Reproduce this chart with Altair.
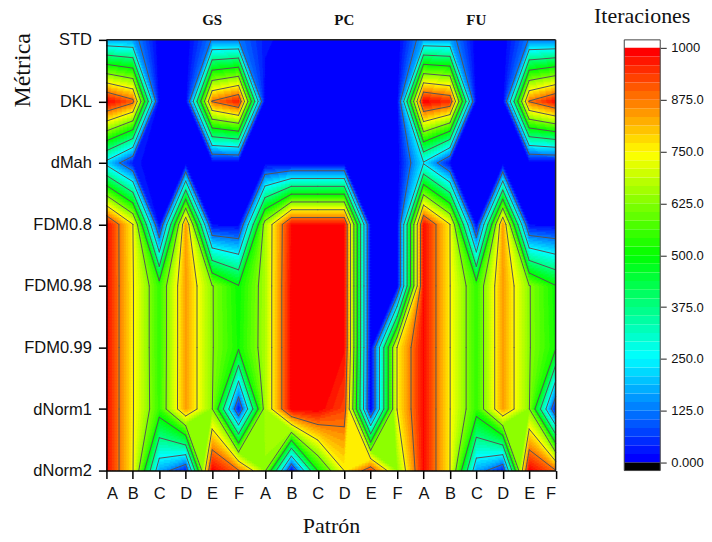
import altair as alt
import numpy as np
import pandas as pd

alt.data_transformers.disable_max_rows()

# Values: one list per metric, one value per pattern
COLUMNS = ["A", "B", "C", "D", "E", "F"] * 3
METRICS = ["STD", "DKL", "dMah", "FDM0.8", "FDM0.98", "FDM0.99", "dNorm1", "dNorm2"]
STD = [170, 160, 0, 0, 130, 125, 30, 0, 0, 0, 0, 0, 170, 165, 0, 0, 130, 125]
DKL = [1000, 900, 0, 0, 880, 970, 0, 0, 0, 0, 0, 0, 1000, 950, 0, 0, 880, 985]
DMAH = [220, 30, 0, 0, 0, 0, 0, 0, 0, 0, 0, 0, 240, 20, 0, 0, 0, 0]
FDM08 = [985, 752, 10, 850, 15, 10, 665, 985, 985, 985, 0, 0, 985, 752, 10, 850, 15, 10]
FDM098 = [985, 755, 545, 840, 630, 505, 665, 995, 995, 985, 0, 0, 985, 752, 545, 840, 630, 505]
FDM099 = [985, 755, 545, 840, 630, 515, 665, 995, 995, 985, 0, 752, 985, 752, 545, 840, 630, 515]
DNORM1 = [985, 755, 550, 840, 630, 30, 665, 995, 1000, 925, 0, 752, 985, 752, 545, 840, 630, 30]
DNORM2 = [985, 755, 175, 45, 1000, 880, 640, 20, 505, 752, 930, 640, 985, 752, 175, 45, 1000, 880]
GROUPS = ["GS", "PC", "FU"]
GROUP_AT = [4, 9, 14]
CONTOUR_LEVELS = [125, 250, 375, 500, 625, 750, 875]
BAR_TICKS = [0, 125, 250, 375, 500, 625, 750, 875, 1000]
BAR_LABELS = ["0.000", "125.0", "250.0", "375.0", "500.0", "625.0", "750.0", "875.0", "1000"]
BANDS = 48

Z = np.array([STD, DKL, DMAH, FDM08, FDM098, FDM099, DNORM1, DNORM2], dtype=float)
NR, NC = Z.shape
W, H = 449.5, 431


def colour(v):
    stops = [0, 250, 500, 750, 1000]
    r = np.interp(v, stops, [0, 0, 0, 255, 255])
    g = np.interp(v, stops, [0, 255, 255, 255, 0])
    b = np.interp(v, stops, [255, 255, 0, 0, 0])
    return "#%02x%02x%02x" % (round(r), round(g), round(b))


band_colours = [colour(i / (BANDS - 1) * 1000) for i in range(BANDS)]


def crossings(tl, tr, bl, br, lev):
    """Marching squares: where the level crosses each edge of a unit cell."""
    pts = {}
    if (tl >= lev) != (tr >= lev):
        pts["top"] = ((lev - tl) / (tr - tl), 0.0)
    if (tr >= lev) != (br >= lev):
        pts["right"] = (1.0, (lev - tr) / (br - tr))
    if (bl >= lev) != (br >= lev):
        pts["bottom"] = ((lev - bl) / (br - bl), 1.0)
    if (tl >= lev) != (bl >= lev):
        pts["left"] = (0.0, (lev - tl) / (bl - tl))
    return pts


CORNERS = {
    "tl": ((0.0, 0.0), "top", "left"),
    "tr": ((1.0, 0.0), "top", "right"),
    "bl": ((0.0, 1.0), "bottom", "left"),
    "br": ((1.0, 1.0), "bottom", "right"),
}


def side(p, q, u, v):
    return (q[0] - p[0]) * (v - p[1]) - (q[1] - p[1]) * (u - p[0])


def chords(tl, tr, bl, br, lev):
    pts = crossings(tl, tr, bl, br, lev)
    if len(pts) == 2:
        a, b = list(pts.values())
        return [(a, b)]
    if len(pts) == 4:
        centre_high = (tl + tr + bl + br) / 4 >= lev
        values = {"tl": tl, "tr": tr, "bl": bl, "br": br}
        out = []
        for name, (corner, e1, e2) in CORNERS.items():
            if (values[name] >= lev) != centre_high:
                out.append((pts[e1], pts[e2]))
        return out
    return []


def inside(tl, tr, bl, br, lev, u, v):
    """Mask of samples on the >= level side of the straight chords of a cell."""
    pts = crossings(tl, tr, bl, br, lev)
    values = {"tl": tl, "tr": tr, "bl": bl, "br": br}
    if not pts:
        return np.full(u.shape, tl >= lev)
    if len(pts) == 2:
        a, b = list(pts.values())
        top = max(values, key=values.get)
        corner = CORNERS[top][0]
        s = side(a, b, corner[0], corner[1])
        if s == 0:
            return np.full(u.shape, False)
        return side(a, b, u, v) * s >= 0
    centre_high = (tl + tr + bl + br) / 4 >= lev
    mask = np.full(u.shape, centre_high)
    for name, (corner, e1, e2) in CORNERS.items():
        if (values[name] >= lev) != centre_high:
            a, b = pts[e1], pts[e2]
            s = side(a, b, corner[0], corner[1])
            in_corner = side(a, b, u, v) * s >= 0
            if centre_high:
                mask = mask & ~in_corner
            else:
                mask = mask | in_corner
    return mask


# Filled bands: each cell is cut by the same straight chords as the lines
PER_ROW, PER_COL = 41, 53
U, V = np.meshgrid((np.arange(PER_COL) + 0.5) / PER_COL, (np.arange(PER_ROW) + 0.5) / PER_ROW)
B = np.zeros((PER_ROW * (NR - 1), PER_COL * (NC - 1)), dtype=int)
for r in range(NR - 1):
    for c in range(NC - 1):
        tl, tr, bl, br = Z[r, c], Z[r, c + 1], Z[r + 1, c], Z[r + 1, c + 1]
        cell = np.zeros(U.shape, dtype=int)
        for k in range(1, BANDS):
            m = inside(tl, tr, bl, br, k * 1000 / BANDS + 0.01, U, V)
            cell[m] = k
        B[r * PER_ROW : (r + 1) * PER_ROW, c * PER_COL : (c + 1) * PER_COL] = cell

rects = []
dy, dx = 1 / PER_ROW, 1 / PER_COL
for j in range(B.shape[0]):
    row = B[j]
    edges = [0] + list(np.nonzero(np.diff(row))[0] + 1) + [len(row)]
    for a, b in zip(edges[:-1], edges[1:]):
        rects.append((a * dx, (b + 3) * dx, j * dy, (j + 2.5) * dy, band_colours[row[a]]))
fill_df = pd.DataFrame(rects, columns=["x", "x2", "y", "y2", "c"])

# Contour lines
segments = []
for r in range(NR - 1):
    for c in range(NC - 1):
        tl, tr, bl, br = Z[r, c], Z[r, c + 1], Z[r + 1, c], Z[r + 1, c + 1]
        for lev in CONTOUR_LEVELS:
            for a, b in chords(tl, tr, bl, br, lev):
                segments.append((c + a[0], c + b[0], r + a[1], r + b[1]))
line_df = pd.DataFrame(segments, columns=["x", "x2", "y", "y2"])

x_scale = alt.Scale(domain=[0, NC - 1], nice=False, zero=False)
y_scale = alt.Scale(domain=[NR - 1, 0], nice=False, zero=False)
x_labels = "[" + ",".join(f"'{n}'" for n in COLUMNS) + "][datum.value]"
y_labels = "[" + ",".join(f"'{n}'" for n in METRICS) + "][datum.value]"

x_axis = alt.Axis(
    values=list(range(NC)), labelExpr=x_labels, title="Patrón", grid=False, zindex=2,
    labelFont="Liberation Sans", labelFontSize=16.5, labelColor="#111", labelPadding=7,
    labelAngle=0, tickSize=8, tickWidth=1.5, tickColor="black", domainColor="black", domainWidth=1.5,
    titleFont="Liberation Serif", titleFontSize=22, titleFontWeight="normal", titlePadding=13,
    titleColor="#111",
)
y_axis = alt.Axis(
    values=list(range(NR)), labelExpr=y_labels, title="Métrica", grid=False, zindex=2,
    labelFont="Liberation Sans", labelFontSize=16.5, labelColor="#111", labelPadding=7,
    tickSize=8, tickWidth=1.5, tickColor="black", domainColor="black", domainWidth=1.5,
    titleFont="Liberation Serif", titleFontSize=24, titleFontWeight="normal", titleColor="#111",
    titleAngle=270, titleAlign="center", titleBaseline="alphabetic", titleX=-77, titleY=30,
)


def frame(width, height, sides, colour_, line_width):
    """Border lines drawn above the filled marks."""
    out = []
    base = alt.Chart(pd.DataFrame({"a": [0]}))
    mark = base.mark_rule(color=colour_, strokeWidth=line_width)
    if "top" in sides:
        out.append(mark.encode(x=alt.value(0), x2=alt.value(width), y=alt.value(0)))
    if "bottom" in sides:
        out.append(mark.encode(x=alt.value(0), x2=alt.value(width), y=alt.value(height)))
    if "left" in sides:
        out.append(mark.encode(x=alt.value(0), y=alt.value(0), y2=alt.value(height)))
    if "right" in sides:
        out.append(mark.encode(x=alt.value(width), y=alt.value(0), y2=alt.value(height)))
    return out


fill = alt.Chart(fill_df).mark_rect(clip=True, strokeWidth=0).encode(
    x=alt.X("x:Q", scale=x_scale, axis=x_axis),
    x2="x2:Q",
    y=alt.Y("y:Q", scale=y_scale, axis=y_axis),
    y2="y2:Q",
    color=alt.Color("c:N", scale=None),
)
lines = alt.Chart(line_df).mark_rule(color="#555555", strokeWidth=1, strokeCap="round").encode(
    x=alt.X("x:Q", scale=x_scale, axis=x_axis),
    x2="x2:Q",
    y=alt.Y("y:Q", scale=y_scale, axis=y_axis),
    y2="y2:Q",
)
groups = alt.Chart(pd.DataFrame({"x": GROUP_AT, "t": GROUPS})).mark_text(
    font="Liberation Serif", fontWeight="bold", fontSize=15, color="#111"
).encode(x=alt.X("x:Q", scale=x_scale, axis=x_axis), y=alt.value(-20), text="t:N")
main = alt.layer(fill, lines, groups, *frame(W, H, ["top", "right"], "#222222", 1.5)).properties(width=W, height=H)

# Colour bar
PX_PER_UNIT = 415 / 1000
pad = (H / PX_PER_UNIT - 1000) / 2
bar_scale = alt.Scale(domain=[-pad, 1000 + pad], nice=False, zero=False)
bar_df = pd.DataFrame(
    [(i * 1000 / BANDS, (i + 1) * 1000 / BANDS, band_colours[i]) for i in range(BANDS)]
    + [(-pad, 0, "#000000")],
    columns=["y", "y2", "c"],
)
bar_labels = "{" + ",".join(f"'{t}':'{l}'" for t, l in zip(BAR_TICKS, BAR_LABELS)) + "}[datum.value]"
bar = alt.Chart(bar_df).mark_rect(strokeWidth=0).encode(
    x=alt.value(0),
    x2=alt.value(36),
    y=alt.Y(
        "y:Q", scale=bar_scale,
        axis=alt.Axis(
            orient="right", values=BAR_TICKS, labelExpr=bar_labels, title=None, grid=False, domain=False,
            labelFont="Liberation Sans", labelFontSize=13, labelColor="#111", labelPadding=4.5,
            tickSize=6, tickWidth=1, tickColor="#222",
        ),
    ),
    y2="y2:Q",
    color=alt.Color("c:N", scale=None),
)
bar_title = alt.Chart(pd.DataFrame({"t": ["Iteraciones"]})).mark_text(
    font="Liberation Serif", fontSize=22, color="#111"
).encode(x=alt.value(18), y=alt.value(-24), text="t:N")
colourbar = alt.layer(
    bar, bar_title, *frame(36, H, ["top", "bottom", "left", "right"], "#444444", 1)
).properties(width=36, height=H)

chart = (
    alt.hconcat(main, colourbar, spacing=36.2)
    .resolve_scale(color="independent", y="independent", x="independent")
    .properties(padding={"left": 2.5, "top": -3.3, "right": 0, "bottom": 0})
    .configure_view(stroke=None)
)
chart.save("out.html", embed_options={"renderer": "svg", "actions": False})
